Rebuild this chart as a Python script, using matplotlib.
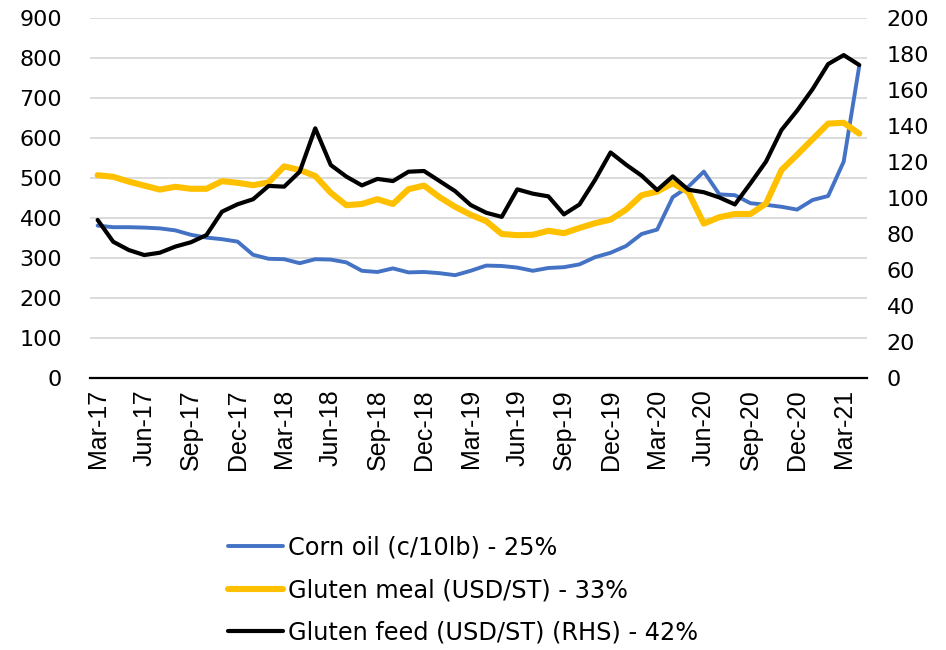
import matplotlib
matplotlib.use("Agg")
import matplotlib.pyplot as plt
import pandas as pd

dates = pd.date_range("2017-03-01", "2021-04-01", freq="MS")

corn_oil = [381, 377, 377, 376, 374, 369, 358, 351, 347, 341,
            308, 298, 297, 287, 297, 296, 289, 268, 265, 274,
            264, 265, 262, 257, 268, 281, 280, 276, 268, 275,
            277, 284, 302, 313, 330, 360, 371, 452, 478, 516,
            459, 457, 437, 433, 428, 421, 445, 455, 541, 780]

gluten_meal = [507, 503, 491, 481, 471, 478, 473, 473, 492, 488,
               482, 489, 529, 520, 505, 463, 432, 435, 447, 435,
               472, 481, 452, 428, 408, 392, 360, 357, 358, 368,
               362, 375, 387, 396, 421, 457, 466, 487, 465, 386,
               402, 410, 410, 436, 520, 558, 597, 636, 638, 611]

gluten_feed = [87.8, 75.7, 71.1, 68.3, 69.6, 73.0, 75.4, 79.4, 92.4, 96.5,
               99.3, 106.7, 106.3, 114.6, 138.7, 118.3, 111.9, 107.0, 110.6, 109.4,
               114.6, 115.0, 109.4, 103.8, 96.1, 91.8, 89.5, 104.8, 102.4, 100.9,
               90.9, 96.4, 110.0, 125.3, 118.5, 112.4, 104.4, 112.0, 104.6, 103.2,
               100.3, 96.4, 108.1, 120.2, 137.8, 148.5, 160.5, 174.4, 179.4, 173.9]

labels = ["Corn oil (c/10lb) - 25%",
          "Gluten meal (USD/ST) - 33%",
          "Gluten feed (USD/ST) (RHS) - 42%"]
colors = ["#4472C4", "#FFC000", "#000000"]

left_ticks = list(range(0, 901, 100))
right_ticks = list(range(0, 201, 20))

tick_labels = [d.strftime("%b-%y") for d in dates]

fig = plt.figure(figsize=(9.46, 6.5), dpi=100)
ax = fig.add_axes([0.095, 0.4185, 0.8215, 0.5538])
ax2 = ax.twinx()

x = list(range(len(dates)))
kw = dict(solid_capstyle="round", solid_joinstyle="round")
l1, = ax.plot(x, corn_oil, color=colors[0], lw=2.8, zorder=3, **kw)
l2, = ax.plot(x, gluten_meal, color=colors[1], lw=4.4, zorder=4, **kw)
l3, = ax2.plot(x, gluten_feed, color=colors[2], lw=3.0, zorder=5, **kw)

ax.set_ylim(0, 900)
ax2.set_ylim(0, 200)
ax.set_xlim(-0.5, len(dates) - 0.5)
ax.set_yticks(left_ticks)
ax2.set_yticks(right_ticks)
ax.yaxis.grid(True, color="#D9D9D9", lw=1.3)
ax.set_axisbelow(True)

ax.set_xticks(x[::3])
ax.set_xticklabels(tick_labels[::3], rotation=90, family="Liberation Sans", fontsize=18)
ax.tick_params(axis="x", length=0, pad=8)
ax.tick_params(axis="y", length=0, pad=20, labelsize=16)
ax2.tick_params(axis="y", length=0, pad=14, labelsize=16)

for a in (ax, ax2):
    for s in ("top", "left", "right", "bottom"):
        a.spines[s].set_visible(False)
ax.axhline(0, color="black", lw=1.6, zorder=6, clip_on=False)

fig.legend([l1, l2, l3], labels, loc="center left", bbox_to_anchor=(0.241, 0.0923),
           frameon=False, fontsize=17.3, handlelength=2.3, handletextpad=0.2,
           labelspacing=0.78, borderpad=0, borderaxespad=0)

fig.savefig("out.png", dpi=100)
